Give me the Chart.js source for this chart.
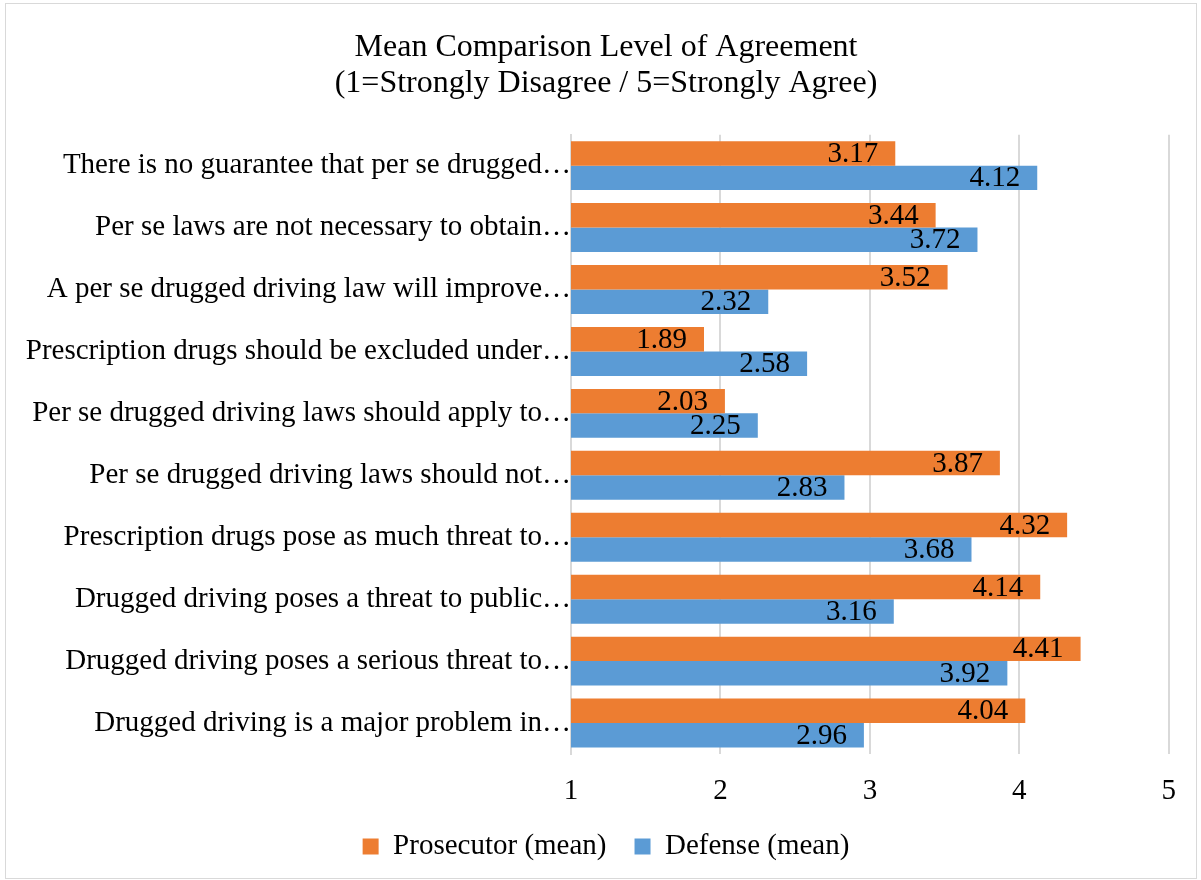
<!DOCTYPE html>
<html lang="en">
<head>
<meta charset="UTF-8" />
<title>Mean Comparison Level of Agreement</title>
<script src="https://cdn.jsdelivr.net/npm/chart.js"></script>
<style>
  html, body { margin: 0; padding: 0; background: #fff; }
  #wrap { position: absolute; left: 5px; top: 3px; width: 1192px; height: 876px; border: 1px solid #d9d9d9; box-sizing: border-box; }
  canvas { display: block; }
</style>
</head>
<body>
<div id="wrap"><canvas id="chart"></canvas></div>
<script>
const categories = [
  'There is no guarantee that per se drugged…',
  'Per se laws are not necessary to obtain…',
  'A per se drugged driving law will improve…',
  'Prescription drugs should be excluded under…',
  'Per se drugged driving laws should apply to…',
  'Per se drugged driving laws should not…',
  'Prescription drugs pose as much threat to…',
  'Drugged driving poses a threat to public…',
  'Drugged driving poses a serious threat to…',
  'Drugged driving is a major problem in…'
];
const prosecutorMeans = [3.17, 3.44, 3.52, 1.89, 2.03, 3.87, 4.32, 4.14, 4.41, 4.04];
const defenseMeans = [4.12, 3.72, 2.32, 2.58, 2.25, 2.83, 3.68, 3.16, 3.92, 2.96];
const xTicks = [1, 2, 3, 4, 5];

const serif = '"Liberation Serif", "Times New Roman", serif';

// value labels drawn just inside the end of each bar
const barLabels = {
  id: 'barLabels',
  afterDatasetsDraw(chart) {
    const ctx = chart.ctx;
    ctx.save();
    ctx.font = '29px ' + serif;
    ctx.fillStyle = '#000';
    ctx.textAlign = 'right';
    ctx.textBaseline = 'middle';
    chart.data.datasets.forEach((ds, i) => {
      chart.getDatasetMeta(i).data.forEach((bar, j) => {
        ctx.fillText(ds.data[j].toFixed(2), bar.x - 17, bar.y + 1);
      });
    });
    ctx.restore();
  }
};

new Chart(document.getElementById('chart'), {
  type: 'bar',
  data: {
    labels: categories,
    datasets: [
      { label: 'Prosecutor (mean)', data: prosecutorMeans, backgroundColor: '#ED7D31' },
      { label: 'Defense (mean)', data: defenseMeans, backgroundColor: '#5B9BD5' }
    ]
  },
  options: {
    indexAxis: 'y',
    responsive: true,
    maintainAspectRatio: false,
    animation: false,
    categoryPercentage: 0.79,
    barPercentage: 1,
    layout: { padding: { top: 26, right: 8, bottom: 7, left: 18 } },
    plugins: {
      title: {
        display: true,
        text: ['Mean Comparison Level of Agreement', '(1=Strongly Disagree / 5=Strongly Agree)'],
        color: '#000',
        font: { family: serif, size: 32, weight: 'normal', lineHeight: 1.12 },
        padding: { top: 0, bottom: 33 }
      },
      legend: {
        position: 'bottom',
        labels: {
          color: '#000',
          font: { family: serif, size: 29 },
          boxWidth: 16,
          boxHeight: 16,
          padding: 28
        }
      },
      tooltip: { enabled: false }
    },
    scales: {
      x: {
        min: 1,
        max: 5,
        afterBuildTicks: (axis) => { axis.ticks = xTicks.map(v => ({ value: v })); },
        afterFit: (axis) => { axis.height = 50; },
        grid: { color: '#d9d9d9', lineWidth: 2, drawTicks: false },
        border: { display: false },
        ticks: { color: '#000', font: { family: serif, size: 29 }, padding: 20 }
      },
      y: {
        afterFit: (axis) => { axis.width = 547; },
        grid: { display: false, drawTicks: false },
        border: { color: '#d9d9d9', width: 2 },
        ticks: { color: '#000', font: { family: serif, size: 29 }, padding: 0 }
      },
      // empty spacer on the right so the plot ends where the reference does
      yRight: {
        type: 'category',
        position: 'right',
        afterFit: (axis) => { axis.width = 19; },
        grid: { display: false, drawTicks: false },
        border: { display: false },
        ticks: { display: false }
      }
    }
  },
  plugins: [barLabels]
});
</script>
</body>
</html>
